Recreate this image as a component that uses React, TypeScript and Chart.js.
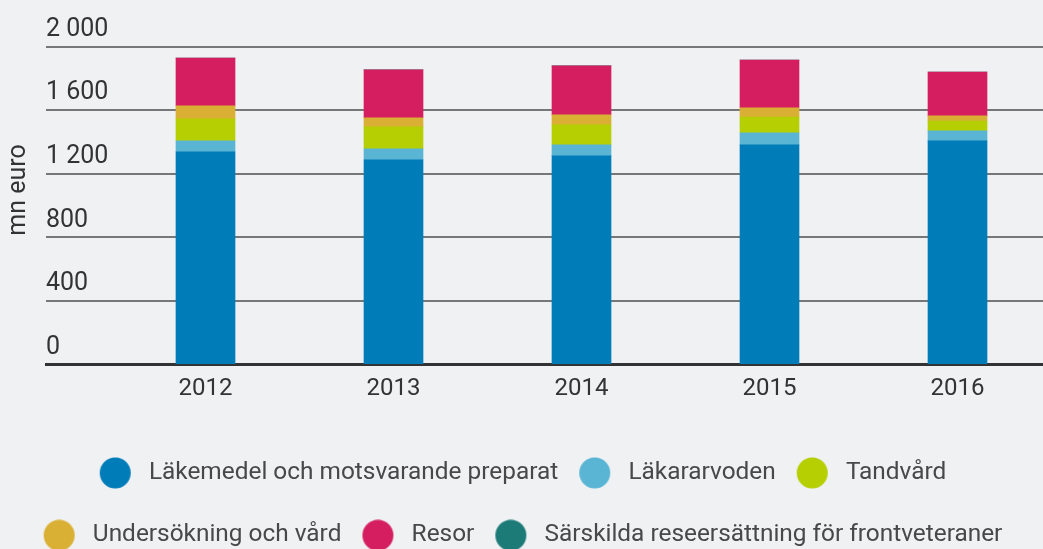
import React, { useEffect, useRef } from "react";
import { Chart, registerables } from "chart.js";

Chart.register(...registerables);

const years = [2012, 2013, 2014, 2015, 2016];
const seriesNames = [
  "Läkemedel och motsvarande preparat",
  "Läkararvoden",
  "Tandvård",
  "Undersökning och vård",
  "Resor",
  "Särskilda reseersättning för frontveteraner",
];
const lakemedel = [1338, 1288, 1313, 1382, 1407];
const lakararvoden = [69, 69, 69, 76, 63];
const tandvard = [138, 138, 125, 98, 61];
const undersokning = [82, 57, 63, 58, 33];
const resor = [301, 301, 308, 301, 276];
const sarskilda = [0, 0, 0, 0, 0];
const colors = ["#007cb8", "#5ab5d5", "#b5cf03", "#d9b033", "#d41e5f", "#1c7b77"];
const yTicks = [0, 400, 800, 1200, 1600, 2000];
const yTitle = "mn euro";

const FONT = "Roboto";

function circleStyle(color: string) {
  const c = document.createElement("canvas");
  c.width = 56;
  c.height = 32;
  const ctx = c.getContext("2d")!;
  ctx.fillStyle = color;
  ctx.beginPath();
  ctx.arc(16.5, 16, 15.5, 0, Math.PI * 2);
  ctx.fill();
  return c;
}

const yTitlePlugin = {
  id: "yTitlePlugin",
  afterLayout(chart: any) {
    const l = chart.legend;
    if (l) {
      l.left += 10;
      l.right += 10;
    }
  },
  afterDraw(chart: any) {
    const ctx = chart.ctx;
    ctx.save();
    ctx.translate(19, 190);
    ctx.rotate(-Math.PI / 2);
    ctx.font = `25px ${FONT}`;
    ctx.fillStyle = "#333333";
    ctx.textAlign = "center";
    ctx.textBaseline = "middle";
    ctx.fillText(yTitle, 0, 0);
    ctx.restore();
  },
};

export default function App() {
  const ref = useRef<HTMLCanvasElement>(null);
  useEffect(() => {
    document.body.style.margin = "0";
    document.body.style.background = "#f0f1f3";
    const all = [lakemedel, lakararvoden, tandvard, undersokning, resor, sarskilda];
    const datasets = all.map((vals, i) => ({
      label: seriesNames[i],
      data: years.map((yr, j) => ({ x: yr, y: vals[j] })),
      backgroundColor: colors[i],
      borderWidth: 0,
      barThickness: 59,
    }));
    const chart = new Chart(ref.current!, {
      type: "bar",
      data: { datasets },
      plugins: [yTitlePlugin],
      options: {
        animation: false,
        responsive: true,
        maintainAspectRatio: false,
        layout: { padding: { top: 46.5, right: 0, bottom: -8.5, left: 0 } },
        plugins: {
          tooltip: { enabled: false },
          legend: {
            position: "bottom",
            labels: {
              usePointStyle: true,
              pointStyleWidth: 20,
              padding: 38,
              color: "#484848",
              font: { family: FONT, size: 24.4 },
              generateLabels: (ch: any) => {
                const items = (Chart.defaults.plugins.legend.labels as any).generateLabels(ch);
                return items.map((it: any, i: number) => ({ ...it, pointStyle: circleStyle(colors[i]) }));
              },
            },
          },
        },
        scales: {
          x: {
            type: "linear",
            stacked: true,
            offset: false,
            min: years[0] - 0.8484,
            max: years[years.length - 1] + 0.4548,
            grid: { display: false, drawTicks: false },
            border: { display: true, color: "#333333", width: 3 },
            afterBuildTicks: (scale: any) => {
              scale.ticks = years.map((v) => ({ value: v }));
            },
            afterFit: (scale: any) => {
              scale.height = 58;
            },
            ticks: {
              autoSkip: false,
              padding: 10,
              color: "#333333",
              font: { family: FONT, size: 24 },
              callback: (v: any) => String(v),
            },
          },
          y: {
            stacked: true,
            min: 0,
            max: 2000,
            afterBuildTicks: (scale: any) => {
              scale.ticks = yTicks.map((v) => ({ value: v }));
            },
            afterFit: (scale: any) => {
              scale.width = 46;
            },
            grid: { color: "#777777", lineWidth: 2, drawTicks: false },
            border: { display: false },
            ticks: {
              mirror: true,
              padding: 0,
              labelOffset: -17,
              color: "#333333",
              font: { family: FONT, size: 25 },
              callback: (v: any) => String(v).replace(/\B(?=(\d{3})+(?!\d))/g, " "),
            },
          },
        },
      },
    });
    return () => chart.destroy();
  }, []);
  return (
    <div style={{ width: 1043, height: 549, position: "relative", background: "#f0f1f3" }}>
      <canvas ref={ref} />
    </div>
  );
}
